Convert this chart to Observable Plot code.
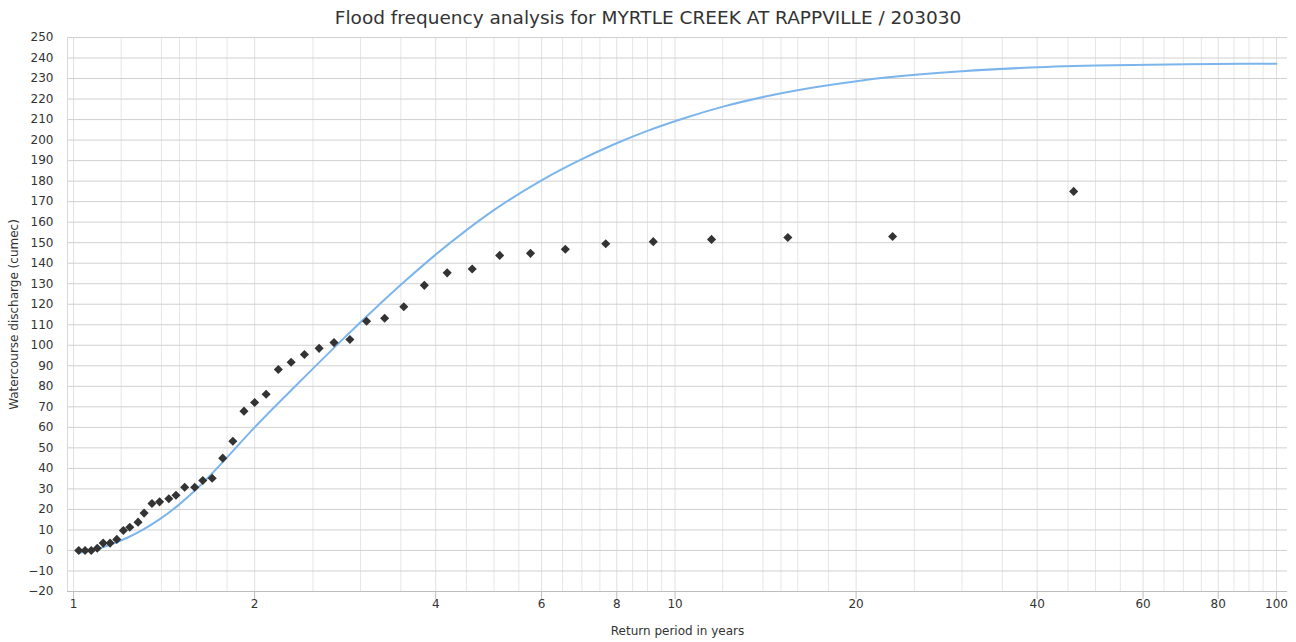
<!DOCTYPE html>
<html><head><meta charset="utf-8">
<script src="https://cdn.jsdelivr.net/npm/d3@7"></script>
<script src="https://cdn.jsdelivr.net/npm/@observablehq/plot@0.6"></script>
<style>
html,body{margin:0;padding:0;background:#fff;}
body{font-family:"DejaVu Sans",sans-serif;width:1296px;height:642px;overflow:hidden;}
#title{height:30px;line-height:36px;text-align:center;font-size:18.5px;color:#333;white-space:nowrap;}
#chart svg{display:block;}
</style></head><body>
<div id="title">Flood frequency analysis for MYRTLE CREEK AT RAPPVILLE / 203030</div>
<div id="chart"></div>
<script>
// Observed annual maxima (return period in years, discharge in cumec)
const obsReturnPeriod = [46, 23, 15.4, 11.5, 9.2, 7.67, 6.57, 5.75, 5.11, 4.6, 4.18, 3.83, 3.54, 3.29, 3.07, 2.88, 2.71, 2.56, 2.42, 2.30, 2.19, 2.09, 2.0, 1.92, 1.84, 1.77, 1.70, 1.64, 1.59, 1.53, 1.48, 1.44, 1.39, 1.35, 1.31, 1.28, 1.24, 1.21, 1.18, 1.15, 1.12, 1.095, 1.07, 1.045, 1.02];
const obsDischarge = [175, 153, 152.5, 151.6, 150.5, 149.5, 146.8, 144.8, 143.8, 137.2, 135.3, 129.2, 118.8, 113.2, 111.7, 102.8, 101.3, 98.5, 95.5, 91.7, 88.2, 76.1, 72.1, 67.9, 53.2, 45, 35.2, 34.1, 30.8, 30.8, 26.9, 25.2, 23.7, 22.9, 18.2, 13.8, 11.3, 9.7, 5.4, 3.6, 3.6, 1.1, 0, 0, 0];

// Fitted frequency curve
const fitReturnPeriod = [1.027, 1.081, 1.152, 1.228, 1.309, 1.395, 1.487, 1.585, 1.689, 1.80, 1.894, 2.0, 2.377, 2.818, 3.162, 3.573, 3.981, 4.467, 5.012, 5.998, 6.918, 7.943, 9.016, 10.26, 12.02, 14.13, 16.98, 20.46, 24.55, 30.0, 38.02, 50.1, 70.8, 100];
const fitDischarge = [-1.0, 0.3, 2.9, 6.2, 10.4, 15.5, 21.6, 28.7, 36.7, 45.4, 52.5, 60, 82.2, 103.6, 117.6, 131.8, 143.7, 155.4, 166.1, 180.4, 190.0, 198.1, 204.6, 210.3, 216.3, 221.2, 225.6, 229.1, 231.6, 233.6, 235.2, 236.3, 237.0, 237.2];

// Axis ticks and grid
const xTicks = [1, 2, 4, 6, 8, 10, 20, 40, 60, 80, 100];
const xMinorGrid = [1.2, 1.4, 1.5, 1.6, 1.8, 2.5, 3, 3.5, 4.5, 5, 5.5, 6.5, 7, 7.5, 8.5, 9, 9.5, 12, 14, 15, 16, 18, 25, 30, 35, 45, 50, 55, 65, 70, 75, 85, 90, 95];
const yTicks = [-20, -10, 0, 10, 20, 30, 40, 50, 60, 70, 80, 90, 100, 110, 120, 130, 140, 150, 160, 170, 180, 190, 200, 210, 220, 230, 240, 250];

const xLabel = "Return period in years";
const yLabel = "Watercourse discharge (cumec)";

const observed = obsReturnPeriod.map((t, i) => ({t, q: obsDischarge[i]}));
const fitted = fitReturnPeriod.map((t, i) => ({t, q: fitDischarge[i]}));

const chart = Plot.plot({
  width: 1296,
  height: 612,
  marginLeft: 67,
  marginRight: 9,
  marginTop: 7,
  marginBottom: 51,
  style: {fontFamily: "DejaVu Sans, sans-serif", fontSize: "12px", color: "#333", background: "#fff"},
  x: {type: "log", domain: [0.977, 104.3]},
  y: {domain: [-20, 250]},
  marks: [
    Plot.ruleX(xMinorGrid, {stroke: "#e6e6e6", strokeWidth: 1}),
    Plot.ruleX(xTicks, {stroke: "#e0e0e0", strokeWidth: 1}),
    Plot.ruleY(yTicks, {stroke: "#d0d0d0", strokeWidth: 1}),
    Plot.ruleX([0.977], {stroke: "#d8d8d8"}),
    Plot.ruleY([-20], {stroke: "#bdbdbd", strokeWidth: 1}),
    Plot.axisX({ticks: xTicks, tickFormat: () => "", tickSize: 8, stroke: "#bdbdbd", label: null}),
    Plot.text(xTicks, {x: d => d, text: d => String(d), frameAnchor: "bottom", dy: 13, lineAnchor: "middle", fill: "#333", fontSize: 12}),
    Plot.axisY({ticks: yTicks, tickFormat: d => String(d).replace("-", "\u2212"), tickSize: 0, tickPadding: 14, fill: "#333", label: null}),
    Plot.line(fitted, {x: "t", y: "q", stroke: "#7cb5ec", strokeWidth: 2, curve: "monotone-x"}),
    Plot.dot(observed, {x: "t", y: "q", symbol: "diamond2", r: 4.1, fill: "#333", stroke: "none"}),
    Plot.text([xLabel], {frameAnchor: "bottom", dy: 40, fill: "#333", fontSize: 12, lineAnchor: "middle", textAnchor: "middle"}),
    Plot.text([yLabel], {frameAnchor: "left", dx: -53, rotate: -90, fill: "#333", fontSize: 12, lineAnchor: "middle", textAnchor: "middle"})
  ]
});
document.getElementById("chart").appendChild(chart);
</script>
</body></html>
